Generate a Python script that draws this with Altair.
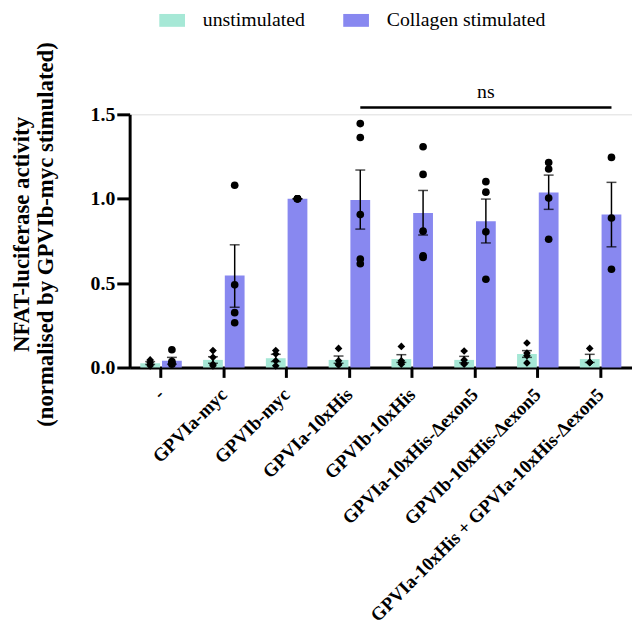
import altair as alt
import pandas as pd

groups = ["-", "GPVIa-myc", "GPVIb-myc", "GPVIa-10xHis", "GPVIb-10xHis",
          "GPVIa-10xHis-Δexon5", "GPVIb-10xHis-Δexon5",
          "GPVIa-10xHis + GPVIa-10xHis-Δexon5"]
conditions = ["unstimulated", "Collagen stimulated"]
colors = ["#a6e8d6", "#8888f0"]
markers = ["diamond", "circle"]

unstim_mean = [0.025, 0.045, 0.055, 0.045, 0.05, 0.045, 0.08, 0.05]
unstim_lo = [0.018, 0.025, 0.035, 0.025, 0.03, 0.028, 0.06, 0.03]
unstim_hi = [0.035, 0.064, 0.078, 0.068, 0.076, 0.066, 0.10, 0.078]
unstim_points = [
    [0.045, 0.03, 0.02, 0.01],
    [0.10, 0.06, 0.02, 0.01],
    [0.10, 0.08, 0.04, 0.01],
    [0.113, 0.04, 0.02, 0.015],
    [0.125, 0.04, 0.03, 0.02],
    [0.098, 0.045, 0.025, 0.02],
    [0.145, 0.086, 0.07, 0.027],
    [0.113, 0.03, 0.03, 0.03],
]

coll_mean = [0.04, 0.545, 1.0, 0.992, 0.916, 0.867, 1.037, 0.906]
coll_lo = [0.02, 0.357, 1.0, 0.82, 0.785, 0.738, 0.937, 0.715]
coll_hi = [0.06, 0.727, 1.0, 1.17, 1.049, 0.998, 1.14, 1.097]
coll_points = [
    [0.105, 0.035, 0.025, 0.02],
    [1.08, 0.49, 0.325, 0.265],
    [1.0, 1.0, 1.0, 1.0],
    [1.445, 1.363, 0.906, 0.643, 0.615],
    [1.308, 1.144, 0.808, 0.662, 0.652],
    [1.101, 1.039, 0.804, 0.523],
    [1.214, 1.176, 1.004, 0.76],
    [1.245, 0.886, 0.582],
]

sig_start = ["GPVIa-10xHis"]
sig_end = ["GPVIa-10xHis + GPVIa-10xHis-Δexon5"]
sig_mid = ["GPVIa-10xHis-Δexon5"]
sig_level = [1.54]
sig_text_level = [1.634]
sig_label = ["ns"]

rows, pts, caps = [], [], []
for cond, means, los, his, plist in [
    (conditions[0], unstim_mean, unstim_lo, unstim_hi, unstim_points),
    (conditions[1], coll_mean, coll_lo, coll_hi, coll_points),
]:
    for g, m, lo, hi, p in zip(groups, means, los, his, plist):
        rows.append({"group": g, "condition": cond, "mean": m, "lo": lo, "hi": hi})
        caps.append({"group": g, "condition": cond, "v": lo})
        caps.append({"group": g, "condition": cond, "v": hi})
        for v in p:
            pts.append({"group": g, "condition": cond, "value": v})

bars_df = pd.DataFrame(rows)
pts_df = pd.DataFrame(pts)
caps_df = pd.DataFrame(caps)
sig_df = pd.DataFrame({"start": sig_start, "end": sig_end, "mid": sig_mid,
                       "level": sig_level, "tlevel": sig_text_level, "label": sig_label})

FONT = "Liberation Serif"

xscale = alt.Scale(domain=groups, paddingInner=0, paddingOuter=0)
xoscale = alt.Scale(domain=conditions, paddingInner=0.09, paddingOuter=0.49)
yscale = alt.Scale(domain=[0, 1.5])

X = alt.X("group:N", scale=xscale, sort=groups,
          axis=alt.Axis(title=None, labelAngle=-45, labelAlign="right",
                        labelBaseline="middle", labelFontSize=19,
                        labelFontWeight="bold", labelFont=FONT,
                        labelPadding=14, tickSize=10, tickWidth=3,
                        domainWidth=3, domainColor="black", tickColor="black",
                        labelColor="black", labelLimit=0))
XO = alt.XOffset("condition:N", scale=xoscale, sort=conditions)
Y_axis = alt.Axis(values=[0, 0.5, 1.0, 1.5], format=".1f", grid=False,
                  title=["NFAT-luciferase activity",
                         "(normalised by GPVIb-myc stimulated)"],
                  titleFont=FONT, titleFontSize=23, titleFontWeight="bold",
                  titleColor="black", titlePadding=33, titleLineHeight=24,
                  titleY=121,
                  labelFont=FONT, labelFontSize=20, labelFontWeight="bold",
                  labelColor="black", tickSize=13, tickWidth=3, domainWidth=3,
                  domainColor="black", tickColor="black", labelPadding=2)

bars = alt.Chart(bars_df).mark_bar().encode(
    x=X, xOffset=XO,
    y=alt.Y("mean:Q", scale=yscale, axis=Y_axis),
    color=alt.Color("condition:N", scale=alt.Scale(domain=conditions, range=colors),
                    legend=alt.Legend(title=None, orient="none", direction="horizontal",
                                      legendX=30, legendY=-108,
                                      symbolType="M-1,-0.5H1V0.5H-1Z",
                                      symbolSize=676, symbolStrokeWidth=0,
                                      symbolOpacity=1,
                                      labelFont=FONT, labelFontSize=20,
                                      labelColor="black", labelOffset=18,
                                      columnPadding=38, labelLimit=0)),
)

err = alt.Chart(bars_df).mark_rule(color="black", strokeWidth=1.5).encode(
    x=X, xOffset=XO, y=alt.Y("lo:Q", scale=yscale), y2="hi:Q")

capm = alt.Chart(caps_df).mark_tick(color="black", thickness=1.5, size=10).encode(
    x=X, xOffset=XO, y=alt.Y("v:Q", scale=yscale))

point_layers = []
for cond, mk in zip(conditions, markers):
    point_layers.append(
        alt.Chart(pts_df).transform_filter(alt.datum.condition == cond)
        .mark_point(filled=True, opacity=1, color="black", size=60, shape=mk)
        .encode(x=X, xOffset=XO, y=alt.Y("value:Q", scale=yscale))
    )

sig = alt.Chart(sig_df).mark_rule(color="black", strokeWidth=2.5, xOffset=11, x2Offset=11).encode(
    x=alt.X("start:N", scale=xscale, sort=groups), x2="end:N",
    y=alt.Y("level:Q", scale=yscale))

sigtxt = alt.Chart(sig_df).mark_text(font=FONT, fontSize=20, color="black",
                                     xOffset=11, baseline="middle").encode(
    x=alt.X("mid:N", scale=xscale, sort=groups),
    y=alt.Y("tlevel:Q", scale=yscale), text="label:N")

chart = alt.layer(bars, err, capm, *point_layers, sig, sigtxt).properties(
    width=508, height=256,
    padding={"left": 123, "top": 104, "right": 0, "bottom": 270},
    autosize=alt.AutoSizeParams(type="none"),
).configure_view(stroke=None).configure(background="white")

chart.save("out.html", embed_options={"renderer": "svg", "actions": False})
